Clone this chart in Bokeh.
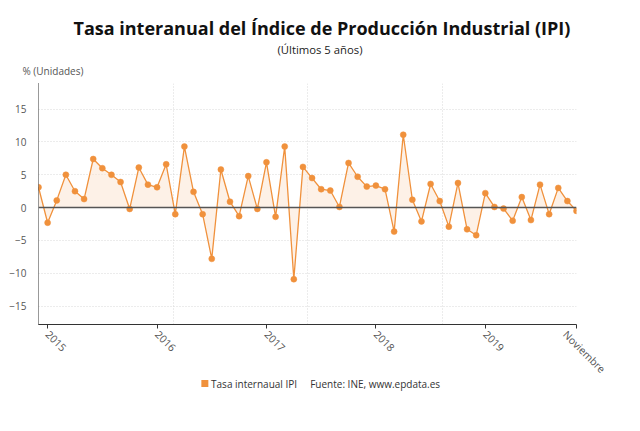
import math
from bokeh.plotting import figure
from bokeh.layouts import column
from bokeh.models import Range1d, FixedTicker, Span, ColumnDataSource, Title
from bokeh.core.properties import value
from bokeh.embed import file_html
from bokeh.resources import INLINE

# Monthly year-on-year rate, Dec 2014 .. Nov 2019
months = list(range(60))
rates = [3.1, -2.3, 1.1, 5.0, 2.5, 1.3, 7.4, 6.0, 5.0, 3.9, -0.2, 6.1,
         3.5, 3.1, 6.6, -1.0, 9.3, 2.4, -1.0, -7.8, 5.8, 0.9, -1.3, 4.8,
         -0.2, 6.9, -1.4, 9.3, -10.9, 6.2, 4.5, 2.8, 2.6, 0.1, 6.8, 4.7,
         3.2, 3.35, 2.8, -3.65, 11.1, 1.2, -2.1, 3.6, 1.0, -2.9, 3.75, -3.3,
         -4.2, 2.2, 0.1, -0.15, -2.0, 1.6, -1.9, 3.5, -1.0, 3.0, 1.0, -0.5]
zeros = [0.0] * len(rates)
tick_pos = [1, 13, 25, 37, 49, 59]
tick_labels = ["2015", "2016", "2017", "2018", "2019", "Noviembre"]
y_ticks = [-15, -10, -5, 0, 5, 10, 15]

title_text = "Tasa interanual del Índice de Producción Industrial (IPI)"
subtitle_text = "(Últimos 5 años)"
y_label_text = "% (Unidades)"
series_name = "Tasa internaual IPI"
source_text = "Fuente: INE, www.epdata.es"

ORANGE = "#f0913c"
FONT = "Open Sans"

src = ColumnDataSource(dict(x=months, y=rates, z=zeros))

p = figure(frame_width=538, frame_height=241, output_backend="svg", toolbar_location=None,
           x_range=Range1d(0, 59), y_range=Range1d(-17.8, 18.9),
           min_border_left=38, min_border_right=32, min_border_top=83,
           min_border_bottom=40)
p.outline_line_color = None
p.background_fill_color = "white"

# grids
p.ygrid.ticker = FixedTicker(ticks=y_ticks)
p.ygrid.grid_line_color = "#d9d9d9"
p.ygrid.grid_line_dash = "1 2"
p.xgrid.ticker = FixedTicker(ticks=[14.75, 29.5, 44.25, 59])
p.xgrid.grid_line_color = "#d9d9d9"
p.xgrid.grid_line_dash = "1 2"

# axes
p.yaxis.ticker = FixedTicker(ticks=y_ticks)
p.yaxis.major_tick_line_color = None
p.yaxis.minor_tick_line_color = None
p.yaxis.axis_line_color = "#333333"
p.yaxis.axis_line_dash = "1 1"
p.yaxis.major_label_text_font = FONT
p.yaxis.major_label_text_font_size = "10px"
p.yaxis.major_label_text_color = "#555555"
p.yaxis.major_label_standoff = 6

p.xaxis.ticker = FixedTicker(ticks=tick_pos)
p.xaxis.major_label_overrides = {t: l for t, l in zip(tick_pos, tick_labels)}
p.xaxis.major_label_orientation = -math.pi / 4
p.xaxis.minor_tick_line_color = None
p.xaxis.major_tick_in = 0
p.xaxis.major_tick_out = 4
p.xaxis.major_tick_line_color = "#333333"
p.xaxis.axis_line_color = "#333333"
p.xaxis.axis_line_width = 1.2
p.xaxis.major_label_text_font = FONT
p.xaxis.major_label_text_font_size = "10.5px"
p.xaxis.major_label_text_color = "#555555"
p.xaxis.major_label_standoff = 4

# data
p.varea(x="x", y1="z", y2="y", source=src, fill_color="#fbe3cf", fill_alpha=0.5)
p.add_layout(Span(location=0, dimension="width", line_color="#555555", line_width=1.5))
p.line(x="x", y="y", source=src, line_color=ORANGE, line_width=1.3)
p.scatter(x="x", y="y", source=src, size=6, fill_color=ORANGE, line_color=ORANGE,
          line_width=0.5)

# titles (later additions sit further from the frame)
p.add_layout(Title(text=y_label_text, align="left", offset=-16, text_font=FONT,
                   text_font_size="10px", text_font_style="normal", text_color="#555555",
                   standoff=11), "above")
p.add_layout(Title(text=subtitle_text, align="left", offset=239, text_font=FONT,
                   text_font_size="11.3px", text_font_style="normal", text_color="#222222",
                   standoff=0), "above")
p.add_layout(Title(text=title_text, align="left", offset=35, text_font=FONT,
                   text_font_size="18px", text_font_style="bold", text_color="#111111",
                   standoff=0), "above")

# footer (legend + source) as a small transparent figure in pixel coordinates
f = figure(width=608, height=24, output_backend="svg", toolbar_location=None,
           x_range=Range1d(0, 608), y_range=Range1d(0, 24),
           min_border=0, x_axis_type=None, y_axis_type=None, margin=(-8, 0, 0, 0))
f.outline_line_color = None
f.background_fill_alpha = 0
f.border_fill_alpha = 0
f.grid.visible = False
f.scatter(x=[188], y=[16], marker="square", size=7, fill_color=ORANGE, line_color=None)
f.text(x=[195, 307], y=[16, 16], text=[series_name, source_text],
       text_font=value(FONT), text_font_size="10px", text_color="#333333",
       text_align="left", text_baseline="middle")

layout = column(p, f, spacing=0)
open("out.html", "w").write(file_html(layout, INLINE))
